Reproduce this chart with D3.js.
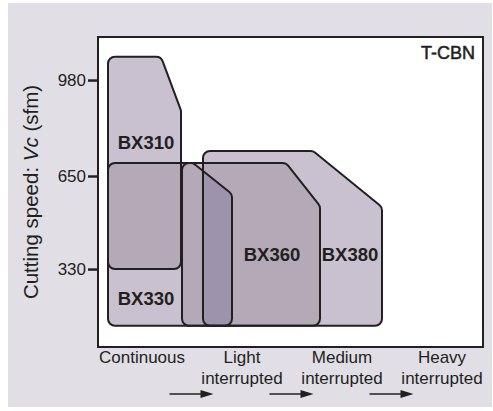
<!DOCTYPE html>
<html>
<head>
<meta charset="utf-8">
<script src="https://cdn.jsdelivr.net/npm/d3@7"></script>
<style>
  body { margin: 0; background: #fff; }
  text { font-family: "Liberation Sans", Arial, Helvetica, sans-serif; fill: #231f20; }
</style>
</head>
<body>
<div id="chart"></div>
<script>
(function () {
    'use strict';

    // severity of the cut: 0 = continuous ... 3 = heavy interrupted
    var severity = ["Continuous", "Light interrupted", "Medium interrupted", "Heavy interrupted"],
        speedTicks = [330, 650, 980],
        grades = ["BX310", "BX330", "BX360", "BX380"],
        // outline of each application zone, [severity, speed in sfm]
        zones = [
            [[-0.335, 1060], [0.195, 1060], [0.395, 875], [0.395, 330], [-0.335, 330]],
            [[-0.335, 695], [0.515, 695], [0.905, 588], [0.905, 135], [-0.335, 135]],
            [[0.405, 695], [1.445, 695], [1.785, 547], [1.785, 135], [0.405, 135]],
            [[0.615, 736], [1.715, 736], [2.405, 543], [2.405, 135], [0.615, 135]]
        ],
        gradeLabelAt = [[0.045, 765], [0.045, 227], [1.305, 380], [2.085, 380]],
        // fill by number of zones stacked on each other
        overlapFill = ["#c9c1d0", "#b4a9b7", "#9e93ac"],
        ink = "#231f20";

    var W = 493, H = 411,
        plot = {left: 98, top: 37, right: 483, bottom: 347};

    var x = d3.scaleLinear().domain([-0.435, 3.415]).range([plot.left, plot.right]),
        y = d3.scaleLinear().domain([62, 1128]).range([plot.bottom, plot.top]);

    function zonePath(pts) {
        var p = d3.path(), n = pts.length, r = 7,
            sp = pts.map(function (d) { return [x(d[0]), y(d[1])]; }),
            a = sp[n - 1], b = sp[0];
        p.moveTo((a[0] + b[0]) / 2, (a[1] + b[1]) / 2);
        sp.forEach(function (d, i) {
            var nx = sp[(i + 1) % n];
            p.arcTo(d[0], d[1], nx[0], nx[1], r);
        });
        p.closePath();
        return p.toString();
    }

    var svg = d3.select("#chart").append("svg")
        .attr("width", W)
        .attr("height", H);

    svg.append("rect")
        .attr("x", 8).attr("y", 3)
        .attr("width", 484).attr("height", 404)
        .attr("fill", "#e1dee6");

    svg.append("rect")
        .attr("x", plot.left).attr("y", plot.top)
        .attr("width", plot.right - plot.left)
        .attr("height", plot.bottom - plot.top)
        .attr("fill", "#fff");

    // clip paths so overlaps can be shaded darker
    svg.append("defs").selectAll("clipPath")
        .data(zones)
        .enter().append("clipPath")
        .attr("id", function (d, i) { return "zone" + i; })
        .append("path")
        .attr("d", zonePath);

    svg.append("g").selectAll("path")
        .data(zones)
        .enter().append("path")
        .attr("d", zonePath)
        .attr("fill", overlapFill[0]);

    var pairs = [], triples = [];
    zones.forEach(function (a, i) {
        zones.forEach(function (b, j) {
            if (j > i) { pairs.push([i, j]); }
            zones.forEach(function (c, k) {
                if (j > i && k > j) { triples.push([i, j, k]); }
            });
        });
    });

    pairs.forEach(function (pr) {
        svg.append("g")
            .attr("clip-path", "url(#zone" + pr[0] + ")")
            .append("path")
            .attr("d", zonePath(zones[pr[1]]))
            .attr("fill", overlapFill[1]);
    });

    triples.forEach(function (tr) {
        svg.append("g")
            .attr("clip-path", "url(#zone" + tr[0] + ")")
            .append("g")
            .attr("clip-path", "url(#zone" + tr[1] + ")")
            .append("path")
            .attr("d", zonePath(zones[tr[2]]))
            .attr("fill", overlapFill[2]);
    });

    svg.append("g").selectAll("path")
        .data(zones)
        .enter().append("path")
        .attr("d", zonePath)
        .attr("fill", "none")
        .attr("stroke", ink)
        .attr("stroke-width", 2)
        .attr("stroke-linejoin", "round");

    svg.append("g").selectAll("text")
        .data(grades)
        .enter().append("text")
        .attr("x", function (d, i) { return x(gradeLabelAt[i][0]); })
        .attr("y", function (d, i) { return y(gradeLabelAt[i][1]); })
        .attr("dy", "0.35em")
        .attr("text-anchor", "middle")
        .style("font-size", "18.5px")
        .style("font-weight", "bold")
        .text(function (d) { return d; });

    // frame
    svg.append("rect")
        .attr("x", plot.left).attr("y", plot.top)
        .attr("width", plot.right - plot.left)
        .attr("height", plot.bottom - plot.top)
        .attr("fill", "none")
        .attr("stroke", ink)
        .attr("stroke-width", 2);

    svg.append("text")
        .attr("x", plot.right - 8)
        .attr("y", plot.top + 22)
        .attr("text-anchor", "end")
        .style("font-size", "18px")
        .style("stroke", ink)
        .style("stroke-width", "0.5px")
        .text("T-CBN");

    // y axis
    var yAxis = svg.append("g")
        .attr("transform", "translate(" + plot.left + ",0)")
        .call(d3.axisLeft(y).tickValues(speedTicks).tickSize(10).tickPadding(2));
    yAxis.select(".domain").remove();
    yAxis.selectAll(".tick line").attr("stroke", ink).attr("stroke-width", 2.5);
    yAxis.selectAll(".tick text")
        .attr("fill", ink)
        .style("font-size", "17px")
        .style("font-family", "'Liberation Sans', Arial, sans-serif");

    var yTitle = svg.append("text")
        .attr("transform", "translate(38," + 192 + ") rotate(-90)")
        .attr("text-anchor", "middle")
        .style("font-size", "20.5px");
    yTitle.append("tspan").text("Cutting speed: ");
    yTitle.append("tspan").style("font-style", "italic").text("Vc");
    yTitle.append("tspan").text(" (sfm)");

    // x axis: two line category labels
    var xAxis = svg.append("g")
        .attr("transform", "translate(0," + plot.bottom + ")")
        .call(d3.axisBottom(x).tickValues(d3.range(severity.length)).tickSize(0).tickFormat(""));
    xAxis.select(".domain").remove();
    xAxis.selectAll(".tick text").remove();
    xAxis.selectAll(".tick").append("text")
        .attr("text-anchor", "middle")
        .style("font-size", "17px")
        .each(function (d) {
            var words = severity[d].split(" "), t = d3.select(this);
            words.forEach(function (w, k) {
                t.append("tspan").attr("x", 0).attr("y", 16 + k * 21).text(w);
            });
        });

    // arrows between categories
    var arrows = svg.append("g").selectAll("g")
        .data(d3.range(1, severity.length))
        .enter().append("g")
        .attr("transform", function (d) { return "translate(" + x(d - 0.5) + ",394)"; });
    arrows.append("line")
        .attr("x1", -22).attr("x2", 12)
        .attr("stroke", ink)
        .attr("stroke-width", 1.5);
    arrows.append("path")
        .attr("d", "M22,0L9,-4L9,4Z")
        .attr("fill", ink);
}());
</script>
</body>
</html>
